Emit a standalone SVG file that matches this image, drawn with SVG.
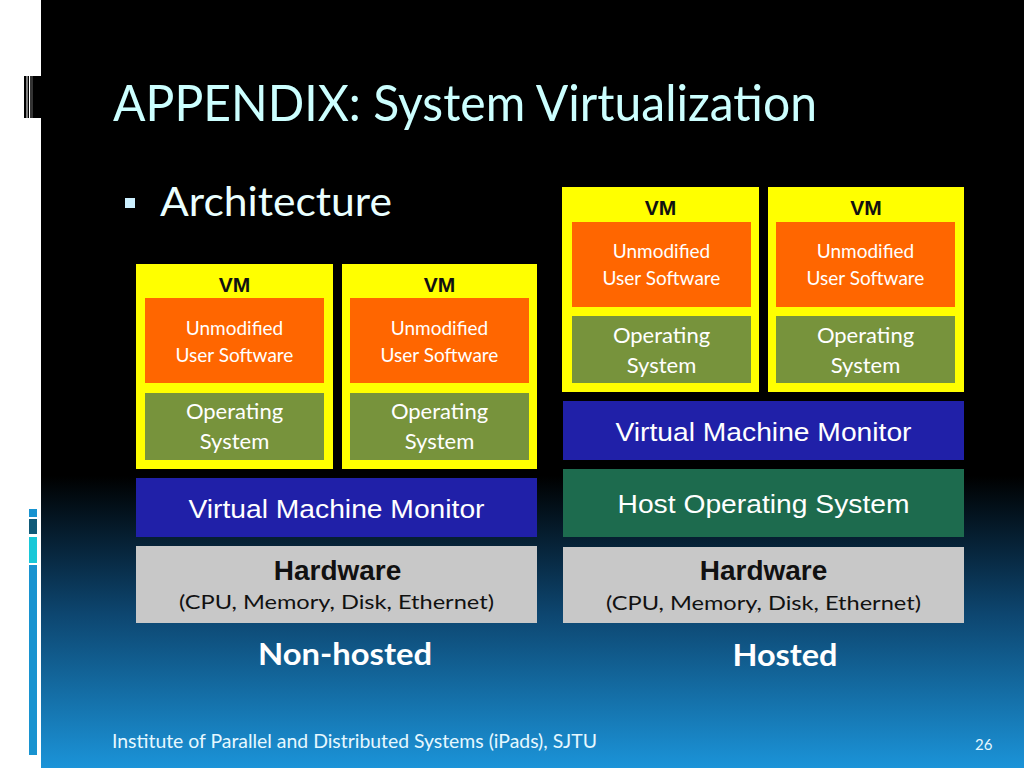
<svg xmlns="http://www.w3.org/2000/svg" width="1024" height="768" viewBox="0 0 1024 768">
<defs>
<linearGradient id="bg" x1="0" y1="0" x2="0" y2="768" gradientUnits="userSpaceOnUse">
<stop offset="0" stop-color="#000000"/>
<stop offset="0.62" stop-color="#000000"/>
<stop offset="0.8" stop-color="#0d4670"/>
<stop offset="1" stop-color="#1b93d8"/>
</linearGradient>
<style>
.vm{fill:#ffff00}
.app{fill:#ff6600}
.os{fill:#77933c}
.vmm{fill:#2020a8}
.host{fill:#1d6b4e}
.hw{fill:#c8c8c8}
.cal{font-family:Lato,"Open Sans","Liberation Sans",sans-serif}
.ar{font-family:"Liberation Sans",Arial,sans-serif}
.w{fill:#ffffff}
.c{text-anchor:middle}
.vmt{font-family:"Liberation Sans",Arial,sans-serif;font-weight:bold;font-size:21px;fill:#111111;text-anchor:middle}
.ut{font-size:19px}
.ot{font-size:22px}
.big{font-size:26px}
.hwt{font-family:"Liberation Sans",Arial,sans-serif;font-weight:bold;font-size:28px;fill:#111111;text-anchor:middle}
.hws{font-size:20px;fill:#111111;text-anchor:middle}
.lab{font-weight:bold;font-size:30px;fill:#ffffff;text-anchor:middle}
</style>
</defs>
<rect x="0" y="0" width="1024" height="768" fill="#ffffff"/>
<rect x="41" y="0" width="983" height="768" fill="url(#bg)"/>
<g id="deco">
<rect x="24" y="76" width="2.5" height="42" fill="#000"/>
<rect x="27.5" y="76" width="1.5" height="42" fill="#000"/>
<rect x="30" y="76" width="3" height="42" fill="#333"/>
<rect x="33" y="76" width="8" height="42" fill="#000"/>
<rect x="29" y="509" width="8" height="8" fill="#1893d0"/>
<rect x="29" y="519" width="8" height="15" fill="#0f5a78"/>
<rect x="29" y="537" width="8" height="26" fill="#18c8d8"/>
<rect x="29" y="565" width="8" height="190" fill="#1893d0"/>
</g>
<g id="title">
<text x="113" y="121" class="cal" font-size="50" fill="#ccffff" textLength="704" lengthAdjust="spacingAndGlyphs">APPENDIX: System Virtualization</text>
</g>
<g id="bullet">
<rect x="125" y="198" width="10" height="10" fill="#ccf0ff"/>
<text x="160" y="216" class="cal" font-size="40" fill="#eaffff" textLength="232" lengthAdjust="spacingAndGlyphs">Architecture</text>
</g>
<g id="nonhosted-vm1">
<rect class="vm" x="136" y="264" width="197" height="205"/>
<text class="vmt" x="234.5" y="292">VM</text>
<rect class="app" x="145" y="298" width="179" height="85"/>
<text class="cal w c ut" x="234.5" y="335">Unmodified</text>
<text class="cal w c ut" x="234.5" y="362">User Software</text>
<rect class="os" x="145" y="393" width="179" height="67"/>
<text class="cal w c ot" x="234.5" y="419">Operating</text>
<text class="cal w c ot" x="234.5" y="449">System</text>
</g>
<g id="nonhosted-vm2">
<rect class="vm" x="342" y="264" width="195" height="205"/>
<text class="vmt" x="439.5" y="292">VM</text>
<rect class="app" x="350" y="298" width="179" height="85"/>
<text class="cal w c ut" x="439.5" y="335">Unmodified</text>
<text class="cal w c ut" x="439.5" y="362">User Software</text>
<rect class="os" x="350" y="393" width="179" height="67"/>
<text class="cal w c ot" x="439.5" y="419">Operating</text>
<text class="cal w c ot" x="439.5" y="449">System</text>
</g>
<g id="nonhosted-vmm">
<rect class="vmm" x="136" y="478" width="401" height="59"/>
<text class="ar w c big" x="336.5" y="518" textLength="296" lengthAdjust="spacingAndGlyphs">Virtual Machine Monitor</text>
</g>
<g id="nonhosted-hw">
<rect class="hw" x="136" y="546" width="401" height="77"/>
<text class="hwt" x="337.5" y="580">Hardware</text>
<text class="cal hws" x="336.5" y="609" textLength="315" lengthAdjust="spacingAndGlyphs">(CPU, Memory, Disk, Ethernet)</text>
</g>
<g id="hosted-vm1">
<rect class="vm" x="562" y="187" width="197" height="205"/>
<text class="vmt" x="660.5" y="215">VM</text>
<rect class="app" x="572" y="222" width="179" height="85"/>
<text class="cal w c ut" x="661.5" y="258">Unmodified</text>
<text class="cal w c ut" x="661.5" y="285">User Software</text>
<rect class="os" x="572" y="316" width="179" height="67"/>
<text class="cal w c ot" x="661.5" y="343">Operating</text>
<text class="cal w c ot" x="661.5" y="373">System</text>
</g>
<g id="hosted-vm2">
<rect class="vm" x="768" y="187" width="196" height="205"/>
<text class="vmt" x="866" y="215">VM</text>
<rect class="app" x="776" y="222" width="179" height="85"/>
<text class="cal w c ut" x="865.5" y="258">Unmodified</text>
<text class="cal w c ut" x="865.5" y="285">User Software</text>
<rect class="os" x="776" y="316" width="179" height="67"/>
<text class="cal w c ot" x="865.5" y="343">Operating</text>
<text class="cal w c ot" x="865.5" y="373">System</text>
</g>
<g id="hosted-vmm">
<rect class="vmm" x="563" y="401" width="401" height="59"/>
<text class="ar w c big" x="763.5" y="441" textLength="296" lengthAdjust="spacingAndGlyphs">Virtual Machine Monitor</text>
</g>
<g id="hosted-hostos">
<rect class="host" x="563" y="469" width="401" height="68"/>
<text class="ar w c big" x="763.5" y="513" textLength="292" lengthAdjust="spacingAndGlyphs">Host Operating System</text>
</g>
<g id="hosted-hw">
<rect class="hw" x="563" y="547" width="401" height="76"/>
<text class="hwt" x="763.5" y="580">Hardware</text>
<text class="cal hws" x="763.5" y="610" textLength="315" lengthAdjust="spacingAndGlyphs">(CPU, Memory, Disk, Ethernet)</text>
</g>
<g id="labels">
<text class="cal lab" x="345" y="665" textLength="174" lengthAdjust="spacingAndGlyphs">Non-hosted</text>
<text class="cal lab" x="785" y="666" textLength="105" lengthAdjust="spacingAndGlyphs">Hosted</text>
</g>
<g id="connectors"></g>
<g id="footer">
<text x="112" y="748" class="cal" font-size="19" fill="#e6f8ff" textLength="485" lengthAdjust="spacingAndGlyphs">Institute of Parallel and Distributed Systems (iPads), SJTU</text>
<text x="975" y="750" class="cal" font-size="15" fill="#e6f8ff">26</text>
</g>
</svg>
